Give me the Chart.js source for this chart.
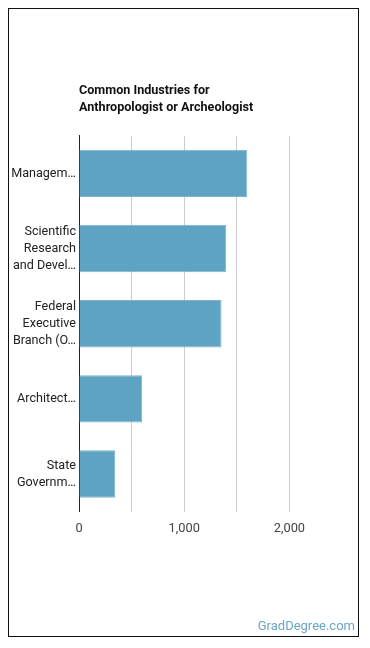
<!DOCTYPE html>
<html>
<head>
<meta charset="utf-8">
<script src="https://cdn.jsdelivr.net/npm/chart.js@4/dist/chart.umd.min.js"></script>
<style>
  body { margin: 0; background: #fff; font-family: Roboto, sans-serif; }
  #frame {
    position: absolute; left: 8px; top: 8px;
    width: 349px; height: 627px;
    border: 1.5px solid #111; background: #fff;
  }
  #wrap { position: absolute; left: 0; top: 0; width: 349px; height: 627px; }
  #credit {
    position: absolute; right: 3px; bottom: 3px;
    font: 13px Roboto, sans-serif; color: #6aa5c5;
  }
</style>
</head>
<body>
<div id="frame">
  <div id="wrap"><canvas id="myChart"></canvas></div>
  <div id="credit">GradDegree.com</div>
</div>
<script>
const industries = [
  "Managem…",
  ["Scientific", "Research", "and Devel…"],
  ["Federal", "Executive", "Branch (O…"],
  "Architect…",
  ["State", "Governm…"]
];
const workers = [1600, 1400, 1355, 600, 345];
const titleLines = ["Common Industries for", "Anthropologist or Archeologist"];

const ctx = document.getElementById("myChart").getContext("2d");
const myChart = new Chart(ctx, {
  type: "bar",
  data: {
    labels: industries,
    datasets: [
      {
        label: "Workers",
        data: workers,
        backgroundColor: "#5fa3c2",
        borderColor: "#7ab5cf",
        borderWidth: 1,
        barPercentage: 0.7,
        categoryPercentage: 0.9,
      },
    ],
  },
  options: {
    indexAxis: "y",
    responsive: true,
    maintainAspectRatio: false,
    animation: false,
    layout: { padding: { left: 0, right: 16, top: 0, bottom: 91 } },
    plugins: {
      legend: { display: false },
      tooltip: { enabled: false },
      title: {
        display: true,
        text: titleLines,
        align: "start",
        fullSize: false,
        color: "#111",
        font: { family: "Roboto", size: 12.6, weight: "bold", lineHeight: 1.3 },
        padding: { top: 74, bottom: 20 },
      },
    },
    scales: {
      x: {
        min: 0,
        max: 2500,
        ticks: {
          stepSize: 500,
          padding: 9,
          color: "#444",
          font: { family: "Roboto", size: 12.8 },
          maxRotation: 0,
          callback: function (value) {
            return value % 1000 === 0 && value < 2500 ? value.toLocaleString("en-US") : "";
          },
        },
        grid: {
          drawTicks: false,
          color: function (c) {
            if (c.tick && c.tick.value === 2500) return "rgba(0,0,0,0)";
            return "#cccccc";
          },
        },
        border: { display: false },
      },
      y: {
        afterFit: function (scale) {
          scale.width = 70;
        },
        ticks: {
          padding: 3,
          color: "#222",
          font: { family: "Roboto", size: 12.6, lineHeight: 1.35 },
        },
        grid: { display: false, drawTicks: false },
        border: { display: true, color: "#222", width: 1 },
      },
    },
  },
});
</script>
</body>
</html>
